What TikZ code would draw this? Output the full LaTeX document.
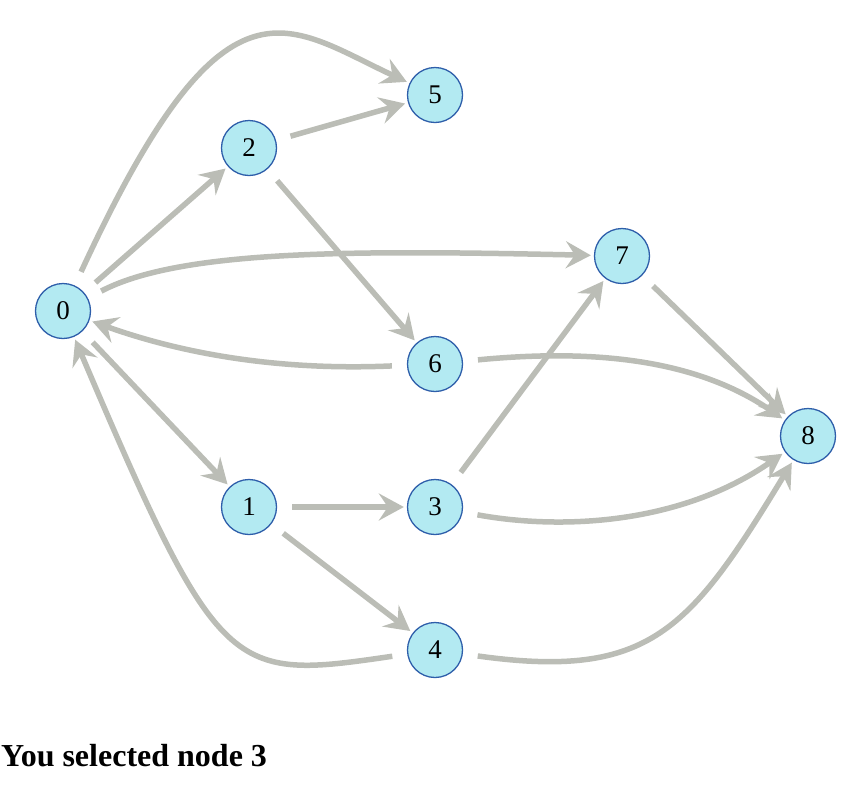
\documentclass[tikz,border=0pt]{standalone}
\usepackage{fontspec}
\setmainfont{Liberation Serif}
\usetikzlibrary{positioning, arrows.meta}
\definecolor{nodeColor}{HTML}{B3EAF2}
\definecolor{nodeBorder}{HTML}{2E5EAA}
\definecolor{edgeColor}{HTML}{BBBDB6}

\begin{document}
\begin{tikzpicture}[
    x=1pt, y=-1pt,
    vertex/.style={
        circle,
        draw=nodeBorder,
        line width=1.3pt,
        fill=nodeColor,
        minimum size=55pt,
        inner sep=0pt,
        font=\fontsize{27}{27}\selectfont,
    },
    edge/.style={
        -{Stealth[length=25pt, width=27pt, inset=9pt]},
        line width=5.5pt,
        color=edgeColor,
        shorten <=15pt,
        shorten >=3pt,
    },
    caption/.style={
        anchor=base west,
        inner sep=0pt,
        font=\fontsize{32}{32}\selectfont\bfseries,
    },
]

\useasboundingbox (0,0) rectangle (859,804);

\node[vertex] (n0) at (63,311) {0};
\node[vertex] (n1) at (249,507) {1};
\node[vertex] (n2) at (249,148) {2};
\node[vertex] (n3) at (435,507) {3};
\node[vertex] (n4) at (435,650) {4};
\node[vertex] (n5) at (435,95) {5};
\node[vertex] (n6) at (435,364) {6};
\node[vertex] (n7) at (622,256) {7};
\node[vertex] (n8) at (808,436) {8};

% straight edges
\draw[edge] (n0) -- (n2);
\draw[edge] (n2) -- (n5);
\draw[edge] (n2) -- (n6);
\draw[edge] (n0) -- (n1);
\draw[edge] (n1) -- (n3);
\draw[edge] (n1) -- (n4);
\draw[edge] (n3) -- (n7);
\draw[edge] (n7) -- (n8);

% curved edges
\draw[edge] (n0) .. controls (225,-40) and (285,25) .. (n5);
\draw[edge] (n0) .. controls (180,250) and (350,250) .. (n7);
\draw[edge] (n6) .. controls (300,370) and (200,360) .. (n0);
\draw[edge] (n6) .. controls (580,350) and (690,355) .. (n8);
\draw[edge] (n3) .. controls (560,530) and (680,525) .. (n8);
\draw[edge] (n4) .. controls (650,680) and (690,630) .. (n8);
\draw[edge] (n4) .. controls (230,680) and (220,680) .. (n0);

\node[caption] (msg) at (1,766) {You selected node 3};

\end{tikzpicture}
\end{document}
